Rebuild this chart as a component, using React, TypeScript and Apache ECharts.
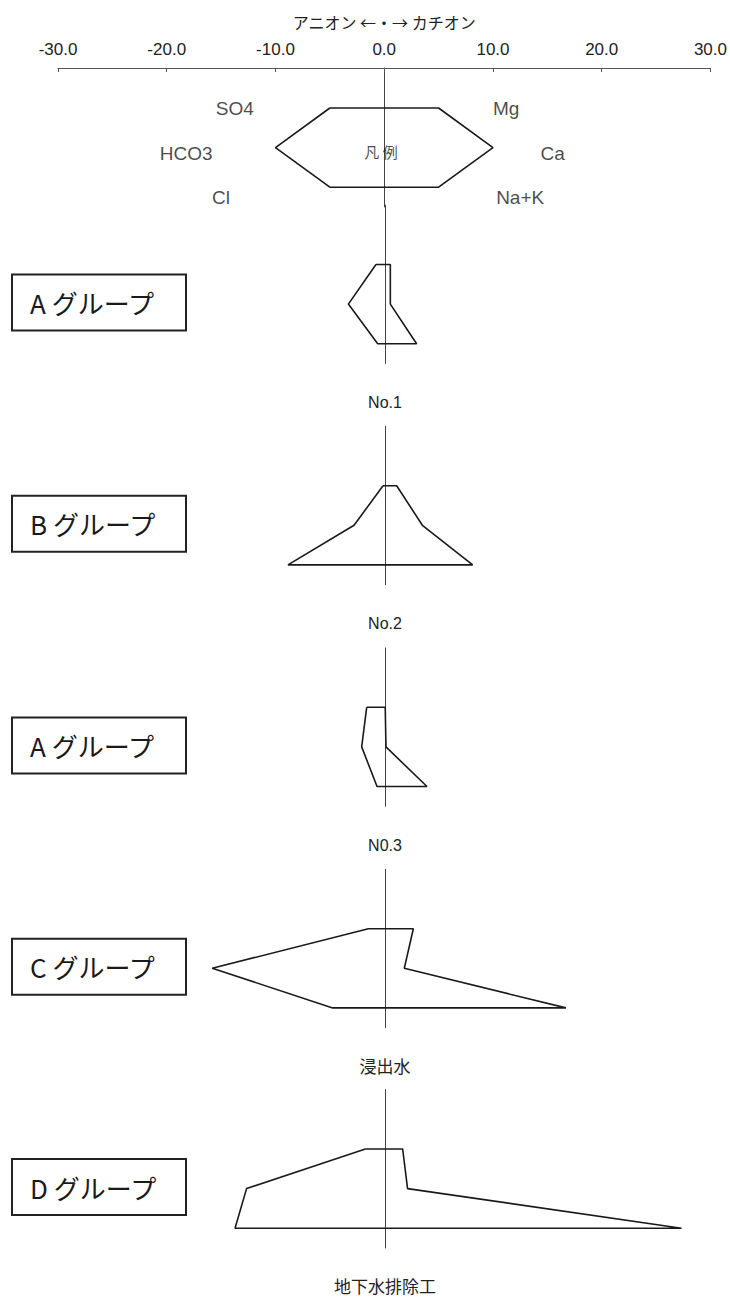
import React, { useEffect, useRef } from "react";
import * as echarts from "echarts";

// ---- data (meq/L), anions plotted to the left, cations to the right ----
const panelNames = ["凡 例", "No.1", "No.2", "N0.3", "浸出水", "地下水排除工"];
const groupLabels = ["", "A グループ", "B グループ", "A グループ", "C グループ", "D グループ"];
const so4 = [5, 0.83, 0.18, 1.68, 1.53, 1.8];
const hco3 = [10, 3.36, 2.84, 2.14, 15.85, 12.7];
const cl = [5, 0.67, 8.9, 0.73, 4.8, 13.76];
const mg = [5, 0.49, 1.07, 0.02, 2.6, 1.62];
const ca = [10, 0.49, 3.43, 0.09, 1.77, 2.07];
const nak = [5, 2.9, 8.04, 3.85, 16.6, 27.2];

const xTicks = [-30, -20, -10, 0, 10, 20, 30];
const axisTitle = "アニオン ←・→ カチオン";

// legend ion labels: [name, x (meq/L), row]
const legendIonNames = ["SO4", "HCO3", "Cl", "Mg", "Ca", "Na+K"];
const legendIonX = [-13.74, -18.22, -15.02, 11.22, 15.49, 12.5];
const legendIonRow = [0, 1.14, 2.25, 0, 1.14, 2.25];

// ---- layout ----
const W = 730;
const H = 1297;
const U = 39.6; // px per row
const ROW0 = [108, 264.5, 485.7, 707.3, 928.7, 1149];
const AXIS_Y = 68;
const LEFT = 58;
const RIGHT = 18;

const LATIN = "Liberation Sans, Arial, sans-serif";
const CJK = "Noto Sans CJK JP, sans-serif";

export default function App() {
  const ref = useRef<HTMLDivElement>(null);
  useEffect(() => {
    if (!ref.current) return;
    const chart = echarts.init(ref.current, null, { renderer: "svg" });

    const grids: any[] = [];
    const xAxes: any[] = [];
    const yAxes: any[] = [];
    const series: any[] = [];
    const graphics: any[] = [];

    panelNames.forEach((name, i) => {
      const isLegend = i === 0;
      const yMin = isLegend ? (AXIS_Y - ROW0[0]) / U : -1.5;
      const yMax = 2.5;
      const top = isLegend ? AXIS_Y : ROW0[i] - 1.5 * U;
      grids.push({ left: LEFT, right: RIGHT, top, height: (yMax - yMin) * U, containLabel: false });
      if (isLegend) {
        xAxes.push({
          gridIndex: i,
          type: "value",
          position: "top",
          min: -30,
          max: 30,
          interval: 10,
          name: axisTitle,
          nameLocation: "middle",
          nameGap: 38,
          nameTextStyle: { fontSize: 16, fontFamily: CJK, color: "#222" },
          axisLine: { show: true, onZero: false, lineStyle: { color: "#555", width: 1 } },
          axisTick: { show: true, inside: true, length: 4, lineStyle: { color: "#555" } },
          axisLabel: {
            show: true,
            margin: 10,
            fontSize: 17,
            fontFamily: LATIN,
            color: "#222",
            showMinLabel: true,
            showMaxLabel: true,
            formatter: (v: number) => (xTicks.includes(v) ? v.toFixed(1) : ""),
          },
          splitLine: { show: false },
        });
      } else {
        const cjkName = /[^\x00-\x7f]/.test(name);
        xAxes.push({
          gridIndex: i,
          type: "value",
          position: "bottom",
          min: -30,
          max: 30,
          interval: 10,
          name,
          nameLocation: "middle",
          nameGap: cjkName ? 29 : 31,
          nameTextStyle: { fontSize: cjkName ? 17 : 16, fontFamily: cjkName ? CJK : LATIN, color: "#222" },
          axisLine: { show: false, onZero: false },
          axisTick: { show: false },
          axisLabel: { show: false },
          splitLine: { show: false },
        });
      }
      yAxes.push({
        gridIndex: i,
        type: "value",
        inverse: true,
        min: yMin,
        max: yMax,
        axisLine: { show: true, onZero: true, lineStyle: { color: "#444", width: 1 } },
        axisTick: { show: false },
        axisLabel: { show: false },
        splitLine: { show: false },
      });
      series.push({
        type: "line",
        xAxisIndex: i,
        yAxisIndex: i,
        symbol: "none",
        silent: true,
        lineStyle: { color: "#1a1a1a", width: 1.6 },
        data: [
          [-so4[i], 0],
          [-hco3[i], 1],
          [-cl[i], 2],
          [nak[i], 2],
          [ca[i], 1],
          [mg[i], 0],
          [-so4[i], 0],
        ],
      });
      if (isLegend) {
        series.push({
          type: "scatter",
          xAxisIndex: i,
          yAxisIndex: i,
          symbolSize: 1,
          itemStyle: { color: "rgba(0,0,0,0)" },
          silent: true,
          label: {
            show: true,
            position: "inside",
            formatter: (p: any) => p.name,
            fontSize: 19,
            fontFamily: LATIN,
            color: "#1a1a1a",
          },
          data: legendIonNames.map((n, k) => ({ name: n, value: [legendIonX[k], legendIonRow[k]] })),
        });
        series.push({
          type: "scatter",
          xAxisIndex: i,
          yAxisIndex: i,
          symbolSize: 1,
          itemStyle: { color: "rgba(0,0,0,0)" },
          silent: true,
          label: {
            show: true,
            position: "inside",
            formatter: (p: any) => p.name,
            fontSize: 15,
            fontFamily: CJK,
            color: "#1a1a1a",
          },
          data: [{ name, value: [-0.3, 1.11] }],
        });
      } else {
        const midY = ROW0[i] + U - 1.5;
        graphics.push({
          type: "rect",
          silent: true,
          shape: { x: 12, y: midY - 28, width: 174, height: 56 },
          style: { fill: "#fff", stroke: "#222", lineWidth: 2 },
        });
        graphics.push({
          type: "text",
          silent: true,
          x: 30,
          y: midY,
          style: {
            text: groupLabels[i],
            fontSize: 26,
            fontFamily: CJK,
            fill: "#1a1a1a",
            verticalAlign: "middle",
            align: "left",
          },
        });
      }
    });

    chart.setOption({
      animation: false,
      backgroundColor: "#fff",
      grid: grids,
      xAxis: xAxes,
      yAxis: yAxes,
      series,
      graphic: graphics,
    });
    return () => chart.dispose();
  }, []);
  return (
    <div
      ref={ref}
      style={{ position: "absolute", left: 0, top: 0, width: W, height: H, background: "#fff" }}
    />
  );
}
